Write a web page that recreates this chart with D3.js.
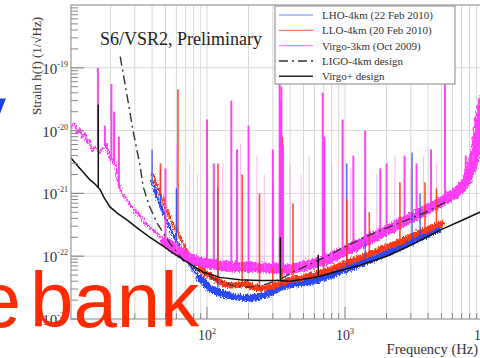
<!DOCTYPE html>
<html><head><meta charset="utf-8">
<script src="https://cdn.jsdelivr.net/npm/d3@7"></script>
<style>body{margin:0;background:#fff;overflow:hidden}svg{display:block}</style>
</head><body>
<script>
// ---------- data (frequency Hz, strain 1/sqrt(Hz)) ----------
const seriesNames = ["LHO-4km (22 Feb 2010)", "LLO-4km (20 Feb 2010)", "Virgo-3km (Oct 2009)", "LIGO-4km  design", "Virgo+ design"];
const xMajorTicks = [100, 1000, 10000];
const xTickExponents = ["2", "3", "4"];
const yMajorTicks = [1e-23, 1e-22, 1e-21, 1e-20, 1e-19];
const yTickExponents = ["-23", "-22", "-21", "-20", "-19"];

const lho = [[40,1.6e-21],[42,1.1e-21],[45.6,6.6e-22],[50,4.2e-22],[54,2.8e-22],[58,2.0e-22],[64,1.35e-22],[70,1.0e-22],[75,7.3e-23],[82,5.6e-23],[89,4.5e-23],[97,3.7e-23],[105,3.1e-23],[115,2.8e-23],[124,2.6e-23],[140,2.4e-23],[160,2.25e-23],[180,2.2e-23],[205,2.15e-23],[230,2.25e-23],[263,2.4e-23],[290,2.7e-23],[311,2.9e-23],[330,3.1e-23],[360,3.4e-23],[399,3.5e-23],[470,3.7e-23],[557,3.9e-23],[650,4.3e-23],[778,4.9e-23],[950,5.9e-23],[1222,7.3e-23],[1600,9.3e-23],[2118,1.2e-22],[2700,1.55e-22],[3493,2.0e-22],[4100,2.35e-22],[4716,2.7e-22]];
const llo = [[40,2.2e-21],[43,1.4e-21],[47,8.5e-22],[52,5.0e-22],[57,3.2e-22],[63,2.1e-22],[70,1.3e-22],[80,8.5e-23],[90,6.2e-23],[100,5.2e-23],[112,4.4e-23],[130,3.7e-23],[150,3.4e-23],[170,3.5e-23],[190,3.6e-23],[215,3.3e-23],[240,3.1e-23],[280,3.2e-23],[320,3.5e-23],[360,3.9e-23],[400,4.2e-23],[480,4.5e-23],[560,4.9e-23],[660,5.4e-23],[780,6.1e-23],[950,7.3e-23],[1220,9.0e-23],[1600,1.12e-22],[2100,1.45e-22],[2800,1.9e-22],[3500,2.4e-22],[4300,2.9e-22],[5000,3.3e-22]];
const virgo = [[10.3,1.1e-20],[11,1.3e-20],[11.5,9e-21],[12,1.05e-20],[12.5,8e-21],[13,9e-21],[13.5,6.5e-21],[14,7e-21],[14.7,4.8e-21],[15.5,5.5e-21],[16.8,4.4e-21],[17.5,5e-21],[18.5,6e-21],[19.2,4.5e-21],[19.8,3.6e-21],[21,3.2e-21],[21.9,2.7e-21],[22.5,1.6e-21],[23.4,1.15e-21],[25,9e-22],[27.6,6.8e-22],[30,5.2e-22],[32.7,4.4e-22],[36,3.3e-22],[40,2.7e-22],[43.5,2.3e-22],[50,1.7e-22],[55,1.45e-22],[60.6,1.25e-22],[70,1.0e-22],[79,8.7e-23],[90,8.0e-23],[105,7.6e-23],[125,7.1e-23],[147,6.8e-23],[175,6.7e-23],[205,6.8e-23],[240,6.6e-23],[286,6.5e-23],[330,6.4e-23],[399,6.2e-23],[500,6.9e-23],[659,8.1e-23],[800,9.5e-23],[922,1.12e-22],[1200,1.45e-22],[1594,2.0e-22],[2100,2.7e-22],[2812,3.8e-22],[3600,5.0e-22],[4880,7.1e-22],[6000,9.5e-22],[6790,1.15e-21],[7600,1.6e-21],[8300,2.6e-21],[8900,5e-21],[9500,1.5e-20],[10000,3e-20]];
const ligoDesign = [[23.5,1.5e-19],[24.5,9e-20],[26.3,3.7e-20],[29.1,1.0e-20],[32.7,2.8e-21],[34.4,1.3e-21],[38,6.5e-22],[43.4,3.4e-22],[54,1.6e-22],[67,8.7e-23],[89,5.6e-23],[118,4.2e-23],[154,3.4e-23],[200,3.2e-23],[260,3.5e-23],[338,4.3e-23],[449,6.0e-23],[741,1.0e-22],[1087,1.55e-22],[1595,2.3e-22],[2504,3.4e-22],[3930,5.1e-22],[5483,7.5e-22]];
const virgoPlusDesign = [[10.3,3.7e-21],[12,2.5e-21],[14.2,1.64e-21],[15.5,1.4e-21],[16.8,1.15e-21],[18,8.5e-22],[19.8,6.1e-22],[22.5,4.8e-22],[26.3,3.8e-22],[32,2.7e-22],[38.6,2.0e-22],[47,1.5e-22],[56.8,1.12e-22],[71.6,8.1e-23],[93.5,5.6e-23],[124,4.6e-23],[173,4.2e-23],[242,4.1e-23],[327,4.1e-23],[399,4.0e-23],[500,4.3e-23],[637,4.7e-23],[900,5.8e-23],[1285,7.2e-23],[2000,1.0e-22],[2813,1.4e-22],[3800,1.95e-22],[4879,2.6e-22],[7000,3.7e-22],[10000,5.3e-22]];

const lhoSpikes = [[40,5e-21],[46,2.5e-21],[60,1.2e-21],[120,1.2e-21],[345,1.2e-20],[1030,3e-21],[1400,6e-22],[3060,4.5e-21],[3500,1e-21]];
const lloSpikes = [[46,3e-21],[61.6,4.5e-20],[120,3e-21],[180,2e-21],[240,1e-21],[300,1.5e-21],[343,1.5e-20],[352,8e-21],[420,7e-22],[700,6e-22],[1030,8e-22],[1500,5e-22],[2500,1.5e-21],[3800,1.5e-21],[4600,1.2e-21]];
const virgoSpikes = [[16.2,1.0e-19],[18.2,1.2e-20],[20.3,5.5e-20],[21.2,2.0e-20],[23,8e-21],[50,2.5e-21],[100,1.5e-20],[112,3e-21],[150,3e-20],[165,5e-21],[200,1.2e-20],[300,5e-21],[336,8e-20],[340,3e-20],[346,5e-20],[355,6e-21],[690,4e-20],[710,8e-21],[960,1.5e-20],[1150,4e-21],[1400,1.0e-20],[1800,2.5e-21],[2000,3e-21],[2700,4e-21],[3300,3e-21],[4200,5e-21],[5300,4.4e-19],[7500,4e-21]];
const virgoFaintSpikes = [[60,6e-21],[75,3e-21],[85,2e-21],[130,3e-21],[175,6e-21],[230,4e-21],[260,2e-21],[400,3e-21],[480,2e-21],[550,4e-21],[800,3e-21],[1100,2.5e-21],[1700,2e-21],[2300,4e-21],[3000,2.5e-21],[3700,4e-21],[4600,3e-21],[8500,4e-21]];
const virgoPlusSpikes = [[16.3,2.6e-20],[340,2.0e-22],[640,1.05e-22]];

// ---------- drawing ----------
const W = 480, H = 358;
const L = 71, T = 5, B = 319, R = 483;
const serif = "'Liberation Serif','Times New Roman',serif";
const colors = {lho:"#2a48f5", llo:"#ff3a14", virgo:"#ff3cf5", black:"#111"};

const svg = d3.select("body").append("svg").attr("width", W).attr("height", H);
const x = d3.scaleLog().domain([10, 1e4]).range([69, 483]);
const y = d3.scaleLog().domain([1e-23, 1e-18]).range([319, 5]);

const defs = svg.append("defs");
defs.append("clipPath").attr("id","plot").append("rect")
  .attr("x", L).attr("y", T).attr("width", R - L).attr("height", B - T);
const flt = defs.append("filter").attr("id","noise").attr("x","-5%").attr("y","-5%").attr("width","110%").attr("height","110%");
flt.append("feTurbulence").attr("type","fractalNoise").attr("baseFrequency","0.9 0.35").attr("numOctaves",2).attr("seed",3).attr("result","t");
flt.append("feDisplacementMap").attr("in","SourceGraphic").attr("in2","t").attr("scale",6)
  .attr("xChannelSelector","R").attr("yChannelSelector","G");

// grid
const xGridVals = [];
[10,100,1000].forEach(d => { for (let k = 1; k <= 9; k++) xGridVals.push(k*d); });
xGridVals.push(10000);
const grid = svg.append("g");
grid.selectAll("line.xg").data(xGridVals.filter(v => x(v) > L + 1)).join("line")
  .attr("x1", d => x(d)).attr("x2", d => x(d)).attr("y1", T).attr("y2", B)
  .attr("stroke", "#d9d9d9").attr("stroke-width", 1);
grid.selectAll("line.yg").data(yMajorTicks.slice(1)).join("line")
  .attr("x1", L).attr("x2", R).attr("y1", d => y(d)).attr("y2", d => y(d))
  .attr("stroke", "#d9d9d9").attr("stroke-width", 1);

const plot = svg.append("g").attr("clip-path", "url(#plot)");
const bands = plot.append("g").attr("filter", "url(#noise)");
const line = d3.line().x(d => x(d[0])).y(d => y(d[1]));

function baseAt(series, f) {
  if (f <= series[0][0]) return series[0][1];
  for (let i = 1; i < series.length; i++) {
    if (series[i][0] >= f) {
      const a = series[i-1], b = series[i];
      const t = (Math.log(f) - Math.log(a[0])) / (Math.log(b[0]) - Math.log(a[0]));
      return Math.exp(Math.log(a[1]) + t * (Math.log(b[1]) - Math.log(a[1])));
    }
  }
  return series[series.length-1][1];
}
function drawSeries(data, color, thinW, thickW, thickFrom) {
  bands.append("path").datum(data).attr("d", line).attr("fill","none")
    .attr("stroke", color).attr("stroke-width", thinW).attr("stroke-linejoin","round");
  bands.append("path").datum(data.filter(d => d[0] >= thickFrom)).attr("d", line).attr("fill","none")
    .attr("stroke", color).attr("stroke-width", thickW).attr("stroke-linejoin","round").attr("stroke-linecap","round");
}
function drawSpikes(spikes, series, color, w, op) {
  plot.append("g").selectAll("line").data(spikes).join("line")
    .attr("x1", d => x(d[0])).attr("x2", d => x(d[0]))
    .attr("y1", d => y(baseAt(series, d[0]))).attr("y2", d => y(d[1]))
    .attr("stroke", color).attr("stroke-width", w).attr("opacity", op);
}

drawSeries(lho, colors.lho, 2.5, 7, 85);
drawSeries(llo, colors.llo, 2.5, 6, 85);
drawSeries(virgo, colors.virgo, 2, 10, 45);
drawSpikes(virgoFaintSpikes, virgo, "#ff8cf0", 1, 0.6);
drawSpikes(lhoSpikes, lho, colors.lho, 1.3, 0.9);
drawSpikes(lloSpikes, llo, colors.llo, 1.6, 0.9);
drawSpikes(virgoSpikes, virgo, colors.virgo, 2, 0.95);

plot.append("path").datum(ligoDesign).attr("d", line).attr("fill","none")
  .attr("stroke", "#333").attr("stroke-width", 1.4).attr("stroke-dasharray", "9,4,2,4");
plot.append("path").datum(virgoPlusDesign).attr("d", line).attr("fill","none")
  .attr("stroke", colors.black).attr("stroke-width", 1.5);
drawSpikes(virgoPlusSpikes, virgoPlusDesign, colors.black, 1.5, 1);

// frame and ticks
svg.append("rect").attr("x", L).attr("y", T).attr("width", R - L).attr("height", B - T)
  .attr("fill","none").attr("stroke","#999").attr("stroke-width",1.2);
const yMinor = [];
[1e-23,1e-22,1e-21,1e-20,1e-19].forEach(d => { for (let k = 2; k <= 9; k++) yMinor.push(k*d); });
svg.append("g").selectAll("line").data(yMinor).join("line")
  .attr("x1", L).attr("x2", L + 7).attr("y1", d => y(d)).attr("y2", d => y(d))
  .attr("stroke","#888").attr("stroke-width",1);
svg.append("g").selectAll("line").data(yMajorTicks).join("line")
  .attr("x1", L).attr("x2", L + 13).attr("y1", d => y(d)).attr("y2", d => y(d))
  .attr("stroke","#888").attr("stroke-width",1.2);
svg.append("g").selectAll("line").data(xGridVals.filter(v => x(v) > L + 1)).join("line")
  .attr("x1", d => x(d)).attr("x2", d => x(d)).attr("y1", B).attr("y2", d => xMajorTicks.includes(d) ? B - 12 : B - 6)
  .attr("stroke","#888").attr("stroke-width",1);

// tick labels
const yl = svg.append("g").attr("font-family", serif).attr("fill", "#333");
yMajorTicks.forEach((v, i) => {
  const t = yl.append("text").attr("x", 68).attr("y", y(v) + 6).attr("text-anchor","end").attr("font-size", 15);
  t.append("tspan").text("10");
  t.append("tspan").attr("font-size", 8).attr("dy", -7).text(yTickExponents[i]);
});
xMajorTicks.forEach((v, i) => {
  const t = yl.append("text").attr("x", x(v)).attr("y", 340).attr("text-anchor","middle").attr("font-size", 14);
  t.append("tspan").text("10");
  t.append("tspan").attr("font-size", 8).attr("dy", -6).text(xTickExponents[i]);
});
yl.append("text").attr("x", 478).attr("y", 354).attr("text-anchor","end").attr("font-size", 14.5).text("Frequency (Hz)");
yl.append("text").attr("transform","translate(41,115) rotate(-90)").attr("font-size", 13).text("Strain h(f) (1/√Hz)");
svg.append("text").attr("x", 100).attr("y", 45).attr("font-family", serif).attr("font-size", 18)
  .attr("fill","#222").text("S6/VSR2, Preliminary");

// legend
const lg = svg.append("g");
lg.append("rect").attr("x", 275).attr("y", 6).attr("width", 180).attr("height", 78)
  .attr("fill","#fff").attr("stroke","#999").attr("stroke-width",1.2);
const legendStyles = [
  {c:"#7088ff", w:1.2, dash:null},
  {c:"#ff7a5a", w:1.2, dash:null},
  {c:"#ff80ff", w:1.2, dash:null},
  {c:"#333", w:1.5, dash:"9,4,2,4"},
  {c:"#222", w:1.5, dash:null}
];
seriesNames.forEach((n, i) => {
  const yy = 15 + i * 15.3;
  lg.append("line").attr("x1", 279).attr("x2", 313).attr("y1", yy).attr("y2", yy)
    .attr("stroke", legendStyles[i].c).attr("stroke-width", legendStyles[i].w)
    .attr("stroke-dasharray", legendStyles[i].dash);
  lg.append("text").attr("x", 322).attr("y", yy + 4).attr("font-family", serif)
    .attr("font-size", 11).attr("fill", "#333").text(n);
});

// slide overlay text
const sans = "'Liberation Sans', Arial, Helvetica, sans-serif";
svg.append("text").attr("x", -33).attr("y", 140).attr("font-family", sans).attr("font-size", 78)
  .attr("fill", "#1f3fe6").text("y");
svg.append("text").attr("x", 21).attr("y", 327).attr("text-anchor","end").attr("font-family", sans).attr("font-size", 78)
  .attr("fill", "#ff2a00").text("e");
svg.append("text").attr("x", 30).attr("y", 327).attr("font-family", sans).attr("font-size", 78)
  .attr("fill", "#ff2a00").text("bank");
</script>
</body></html>
